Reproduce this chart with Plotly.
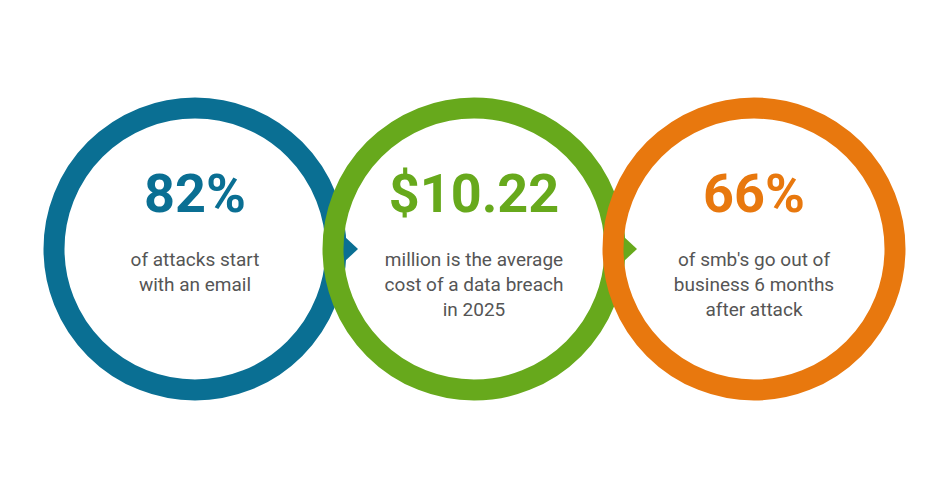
import plotly.graph_objects as go

# values shown in the three rings
headlines = ["82%", "$10.22", "66%"]
captions = [
    "of attacks start<br>with an email",
    "million is the average<br>cost of a data breach<br>in 2025",
    "of smb's go out of<br>business 6 months<br>after attack",
]
colors = ["#0a6f93", "#67a91c", "#e8780e"]
centers_x = [187, 466, 746]
center_y = 241
radius = 141

fig = go.Figure()
shapes = []
for i, (cx, col) in enumerate(zip(centers_x, colors)):
    shapes.append(dict(type="circle", xref="x", yref="y",
                       x0=cx - radius, x1=cx + radius,
                       y0=center_y - radius, y1=center_y + radius,
                       line=dict(color=col, width=21)))
    if i < len(centers_x) - 1:
        bx = cx + radius
        path = f"M {bx-6},{center_y-26} L {bx+22},{center_y} L {bx-6},{center_y+26} Z"
        shapes.append(dict(type="path", xref="x", yref="y", path=path,
                           fillcolor=col, line=dict(color=col, width=0)))

fig.add_trace(go.Scatter(
    x=centers_x, y=[190] * 3, mode="text", text=headlines,
    textfont=dict(family="Roboto", size=54, color=colors, weight="bold"),
    hoverinfo="skip"))
fig.add_trace(go.Scatter(
    x=centers_x, y=[244] * 3, mode="text", text=captions,
    textposition="bottom center",
    textfont=dict(family="Roboto", size=19, color="#555555"),
    hoverinfo="skip"))

fig.update_layout(
    width=931, height=481, margin=dict(l=0, r=0, t=0, b=0),
    paper_bgcolor="white", plot_bgcolor="white", showlegend=False,
    shapes=shapes,
    xaxis=dict(range=[0, 931], visible=False, fixedrange=True),
    yaxis=dict(range=[481, 0], visible=False, fixedrange=True),
)

fig.write_html("out.html")
